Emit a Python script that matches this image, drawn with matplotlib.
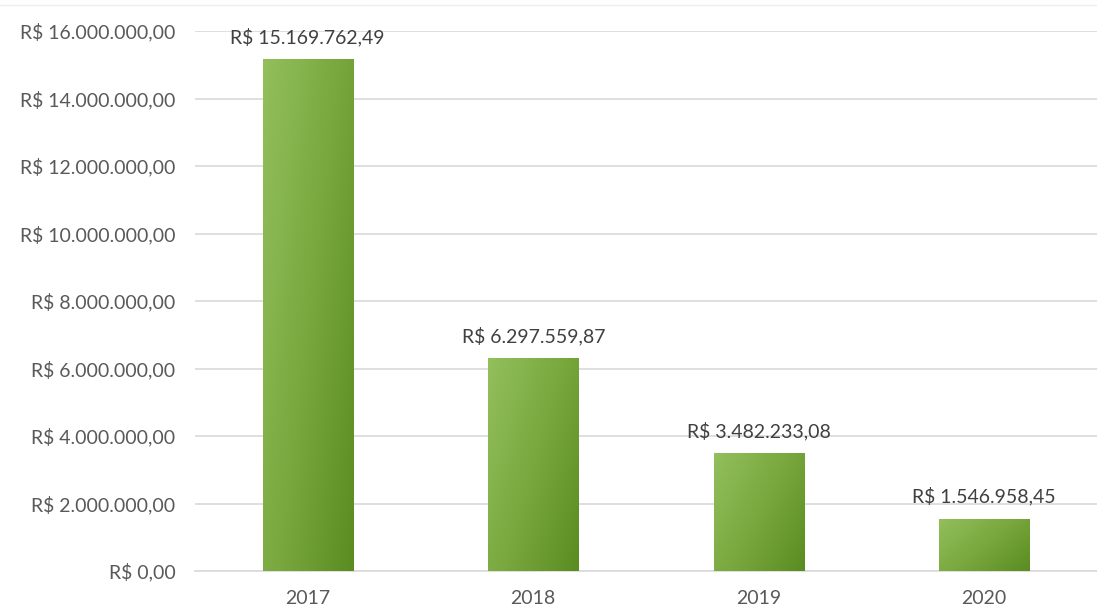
import numpy as np
import matplotlib.pyplot as plt
from matplotlib.colors import LinearSegmentedColormap

# Data
years = ["2017", "2018", "2019", "2020"]
values = [15169762.49, 6297559.87, 3482233.08, 1546958.45]
labels = ["R$ 15.169.762,49", "R$ 6.297.559,87", "R$ 3.482.233,08", "R$ 1.546.958,45"]
yticks = [0, 2e6, 4e6, 6e6, 8e6, 10e6, 12e6, 14e6, 16e6]
ytick_labels = ["R$ 0,00", "R$ 2.000.000,00", "R$ 4.000.000,00", "R$ 6.000.000,00",
                "R$ 8.000.000,00", "R$ 10.000.000,00", "R$ 12.000.000,00",
                "R$ 14.000.000,00", "R$ 16.000.000,00"]

plt.rcParams['font.family'] = ['Lato', 'DejaVu Sans']
text_color = "#595959"

fig = plt.figure(figsize=(10.97, 6.09), dpi=100)
ax = fig.add_axes([195 / 1097, 38 / 609, 902 / 1097, 540 / 609])

x = np.arange(len(years))
bars = ax.bar(x, values, width=0.4, color="none", zorder=3)

# diagonal gradient: light top-left -> dark bottom-right
cmap = LinearSegmentedColormap.from_list("g", ["#93bf5c", "#78a83e", "#5b8c22"])
gx, gy = np.meshgrid(np.linspace(0, 1, 64), np.linspace(0, 1, 64))
for b in bars:
    bx, by = b.get_x(), b.get_y()
    w, h = b.get_width(), b.get_height()
    grad = gx * 0.6 + (1 - gy) * 0.4
    im = ax.imshow(grad, cmap=cmap, extent=[bx, bx + w, by + h, by],
                   aspect="auto", zorder=3, origin="upper", interpolation="bilinear")
    im.set_clip_path(b)

for xi, v, lab in zip(x, values, labels):
    ax.annotate(lab, (xi, v), xytext=(0, 11.5), textcoords="offset points",
                ha="center", va="baseline", fontsize=14, color="#404040")

ax.set_xlim(-0.5, len(years) - 0.5)
ax.set_ylim(0, 16e6)
ax.set_yticks(yticks)
ax.set_yticklabels(ytick_labels)
ax.set_xticks(x)
ax.set_xticklabels(years)
ax.tick_params(axis="both", length=0, labelsize=14, colors=text_color)
ax.tick_params(axis="y", pad=14)
ax.tick_params(axis="x", pad=14)
ax.grid(axis="y", color="#d9d9d9", linewidth=1.2, zorder=0)
for s in ["top", "right", "left"]:
    ax.spines[s].set_visible(False)
ax.spines["bottom"].set_color("#d9d9d9")
ax.spines["bottom"].set_linewidth(1.2)

# faint chart border line at the top
fig.add_artist(plt.Line2D([0, 1], [1 - 5 / 609, 1 - 5 / 609], color="#eeeeee", linewidth=1))

fig.savefig("out.png", dpi=100)
